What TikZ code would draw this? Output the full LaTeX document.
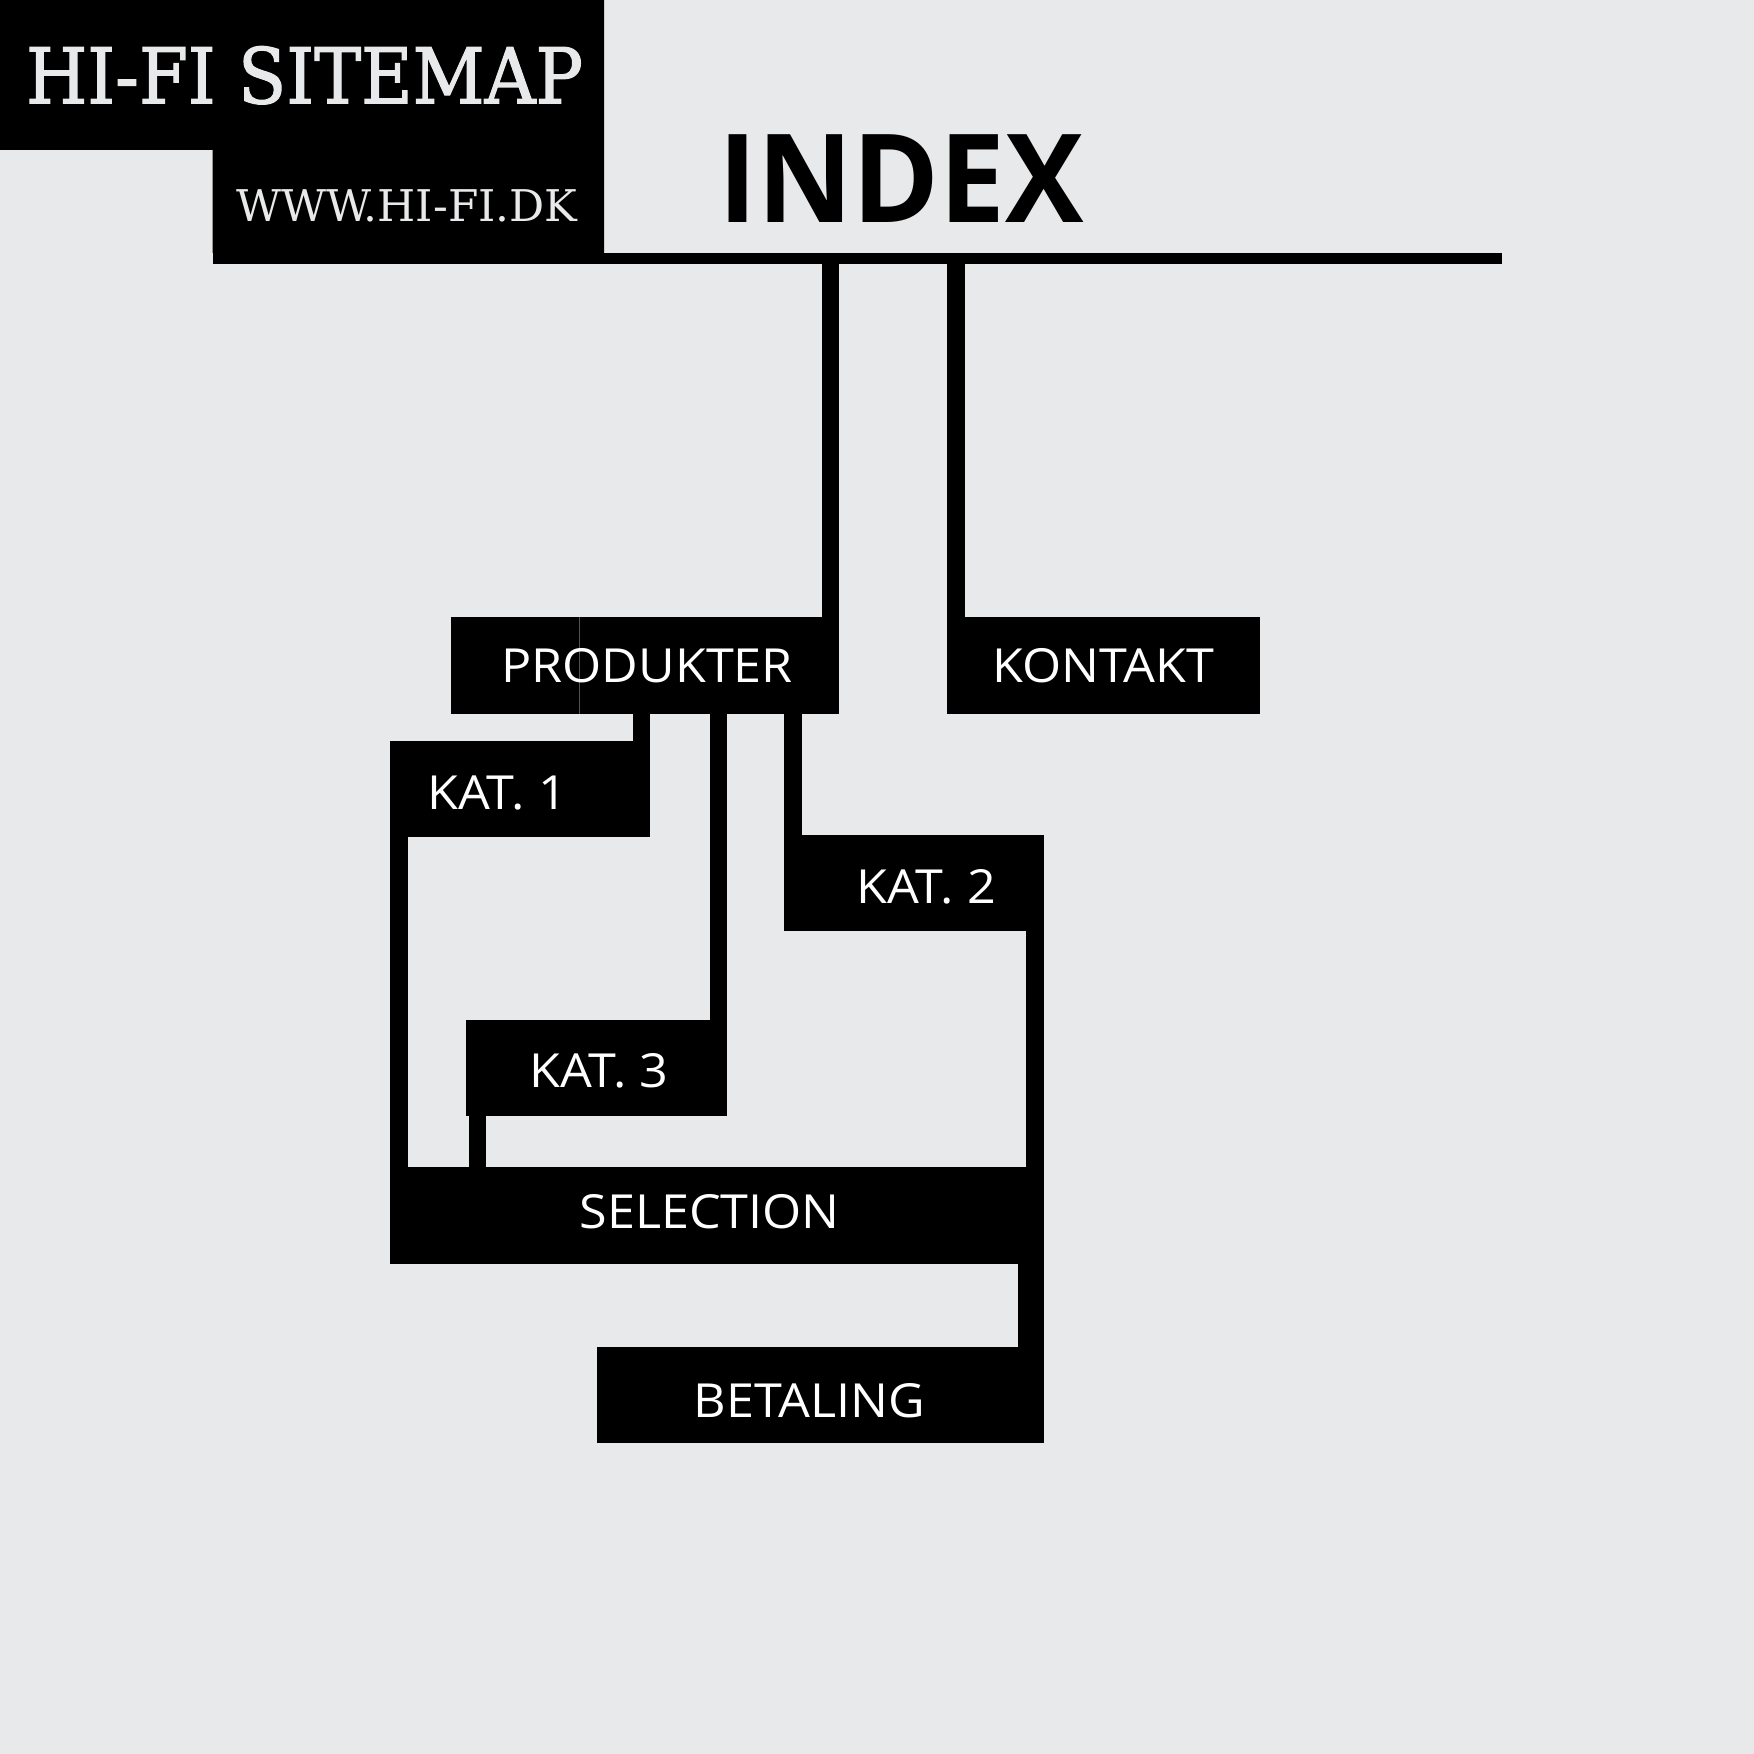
\documentclass[tikz,border=0pt]{standalone}
\usepackage{fontspec}
\usepackage{graphicx}
\setmainfont{Open Sans}
\newfontfamily\lblfont{Open Sans}[FakeStretch=1.07]
\newfontfamily\slabfont{DejaVu Serif}
\newfontfamily\slabmid{DejaVu Serif}[FakeBold=1.6]
\usetikzlibrary{calc}
\definecolor{bg}{RGB}{232,233,235}
\definecolor{titletext}{RGB}{232,233,235}
\begin{document}
\begin{tikzpicture}[x=1pt,y=-1pt,
  box/.style={fill=black, inner sep=0pt, outer sep=0pt, anchor=north west},
  lbl/.style={text=white, font=\lblfont\fontsize{42}{42}\selectfont, inner sep=0pt, anchor=base},
  conn/.style={line width=15.5pt, line cap=butt, draw=black},
  wideconn/.style={line width=23pt, line cap=butt, draw=black},
  seam/.style={draw=black!65!bg, line width=0.8pt}]
\fill[bg] (0,0) rectangle (1568,1568);
\useasboundingbox (0,0) rectangle (1568,1568);

% title block
\fill[black] (0,0) -- (540,0) -- (540,226) -- (190,226) -- (190,134) -- (0,134) -- cycle;
\node[box, minimum width=1153pt, minimum height=10pt] (bar) at (190,226) {};

\node[anchor=south west, inner sep=0pt, text=titletext] (title) at (23,93.5)
  {\resizebox{498pt}{51pt}{\slabmid\fontsize{60}{60}\selectfont HI-FI SITEMAP}};
\node[anchor=south west, inner sep=0pt, text=titletext] (url) at (211,199)
  {\resizebox{305pt}{28.5pt}{\slabfont\fontsize{40}{40}\selectfont WWW.HI-FI.DK}};
\node[anchor=south west, inner sep=0pt, text=black] (index) at (642,199.5)
  {\resizebox{327pt}{78.5pt}{\bfseries\fontsize{100}{100}\selectfont INDEX}};

% boxes
\node[box, minimum width=347pt, minimum height=86pt] (prod) at (403,552) {};
\node[box, minimum width=279pt, minimum height=86pt] (kont) at (847,552) {};
\node[box, minimum width=232pt, minimum height=86pt] (kat1) at (349,662) {};
\node[box, minimum width=232pt, minimum height=86pt] (kat2) at (701,746) {};
\node[box, minimum width=233pt, minimum height=86pt] (kat3) at (417,912) {};
\node[box, minimum width=584pt, minimum height=87pt] (sel) at (349,1043) {};
\node[box, minimum width=399pt, minimum height=86pt] (bet) at (534,1204) {};

% connectors
\draw[conn] ([xshift=-7.75pt]prod.north east) -- ([xshift=-7.75pt]prod.north east |- bar.south);
\draw[conn] ([xshift=7.75pt]kont.north west) -- ([xshift=7.75pt]kont.north west |- bar.south);
\draw[conn] ([xshift=-7.75pt]kat1.north east) -- ([xshift=-7.75pt]kat1.north east |- prod.south);
\draw[conn] ([xshift=-7.75pt]kat3.north east) -- ([xshift=-7.75pt]kat3.north east |- prod.south);
\draw[conn] ([xshift=7.75pt]kat2.north west) -- ([xshift=7.75pt]kat2.north west |- prod.south);
\draw[conn] ([xshift=7.75pt]kat1.south west) -- ([xshift=7.75pt]kat1.south west |- sel.north);
\draw[conn] ([xshift=9.75pt]kat3.south west) -- ([xshift=9.75pt]kat3.south west |- sel.north);
\draw[conn] ([xshift=-7.75pt]kat2.south east) -- ([xshift=-7.75pt]kat2.south east |- sel.north);
\draw[wideconn] ([xshift=-11.5pt]sel.south east) -- ([xshift=-11.5pt]sel.south east |- bet.north);

% thin seam inside PRODUKTER
\draw[seam] ([xshift=115pt]prod.north west) -- ([xshift=115pt]prod.south west);

% labels
\node[lbl] (tprod) at (578.5,610.5) {PRODUKTER};
\node[lbl] (tkont) at (986.5,610.5) {KONTAKT};
\node[lbl] (tkat1) at (444.5,724) {KAT. 1};
\node[lbl] (tkat2) at (828,808) {KAT. 2};
\node[lbl] (tkat3) at (535.5,972) {KAT. 3};
\node[lbl] (tsel) at (634.5,1098) {SELECTION};
\node[lbl] (tbet) at (723.5,1267) {BETALING};
\end{tikzpicture}
\end{document}
